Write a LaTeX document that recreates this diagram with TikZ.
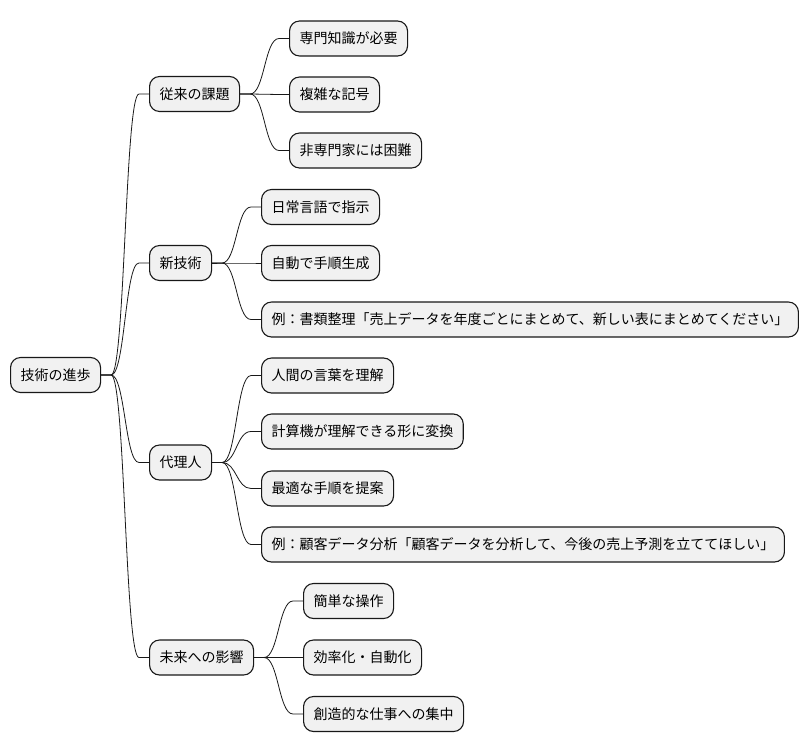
\documentclass[tikz,border=0pt]{standalone}
\usepackage{fontspec}
\setmainfont{Noto Sans CJK JP}
\usetikzlibrary{calc}
\definecolor{boxfill}{HTML}{F1F1F1}
\definecolor{boxline}{HTML}{181818}
\tikzset{
  mm/.style={draw=boxline, fill=boxfill, line width=1.1pt, rounded corners=10pt,
    minimum height=35pt, inner xsep=10pt, inner ysep=0pt, anchor=west,
    font=\fontsize{14}{16}\selectfont},
  lnk/.style={draw=boxline, line width=0.8pt}
}
\newcommand{\conn}[2]{%
  \draw[lnk] let \p1=(#1.east), \p2=(#2.west) in
    (\p1) -- (\x1+10pt,\y1)
    .. controls ({(\x1+\x2)/2},\y1) and ({(\x1+\x2)/2},\y2) ..
    (\x2-10pt,\y2) -- (\p2);}
\begin{document}
\begin{tikzpicture}[x=1pt,y=-1pt]
\useasboundingbox (0,0) rectangle (810,752);
\node[mm] (root) at (10,375) {技術の進歩};
\node[mm] (a) at (149,94) {従来の課題};
\node[mm] (a1) at (289,38.5) {専門知識が必要};
\node[mm] (a2) at (289,94.5) {複雑な記号};
\node[mm] (a3) at (289,150.5) {非専門家には困難};
\node[mm] (b) at (149,263) {新技術};
\node[mm] (b1) at (261,207) {日常言語で指示};
\node[mm] (b2) at (261,263) {自動で手順生成};
\node[mm] (b3) at (261,319.5) {例：書類整理「売上データを年度ごとにまとめて、新しい表にまとめてください」};
\node[mm] (c) at (149,462.5) {代理人};
\node[mm] (c1) at (261,375.5) {人間の言葉を理解};
\node[mm] (c2) at (261,431.5) {計算機が理解できる形に変換};
\node[mm] (c3) at (261,488.5) {最適な手順を提案};
\node[mm] (c4) at (261,544.5) {例：顧客データ分析「顧客データを分析して、今後の売上予測を立ててほしい」};
\node[mm] (d) at (149,657.5) {未来への影響};
\node[mm] (d1) at (303,601) {簡単な操作};
\node[mm] (d2) at (303,657.5) {効率化・自動化};
\node[mm] (d3) at (303,714) {創造的な仕事への集中};
\conn{root}{a}\conn{root}{b}\conn{root}{c}\conn{root}{d}
\conn{a}{a1}\conn{a}{a2}\conn{a}{a3}
\conn{b}{b1}\conn{b}{b2}\conn{b}{b3}
\conn{c}{c1}\conn{c}{c2}\conn{c}{c3}\conn{c}{c4}
\conn{d}{d1}\conn{d}{d2}\conn{d}{d3}
\end{tikzpicture}
\end{document}
